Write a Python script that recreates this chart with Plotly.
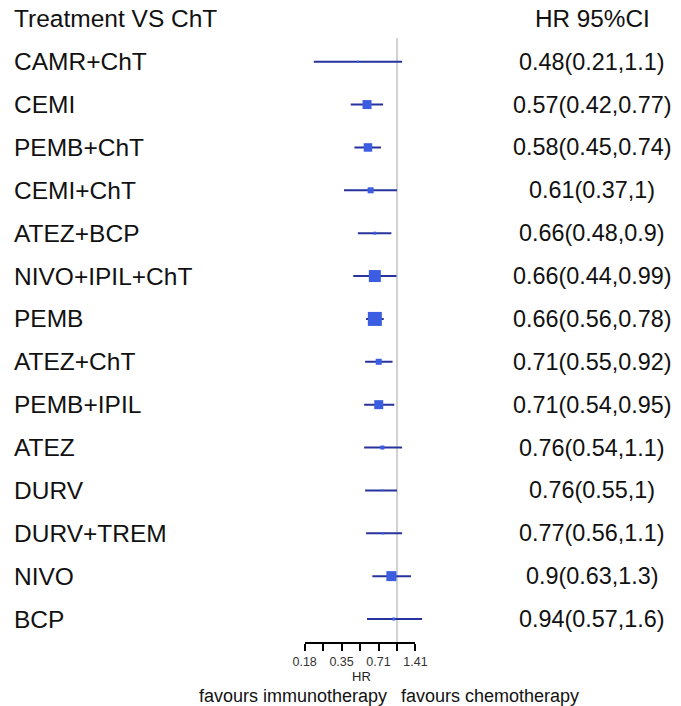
import math
import plotly.graph_objects as go

treatments = ["CAMR+ChT", "CEMI", "PEMB+ChT", "CEMI+ChT", "ATEZ+BCP", "NIVO+IPIL+ChT",
              "PEMB", "ATEZ+ChT", "PEMB+IPIL", "ATEZ", "DURV", "DURV+TREM", "NIVO", "BCP"]
hr = [0.48, 0.57, 0.58, 0.61, 0.66, 0.66, 0.66, 0.71, 0.71, 0.76, 0.76, 0.77, 0.9, 0.94]
lower = [0.21, 0.42, 0.45, 0.37, 0.48, 0.44, 0.56, 0.55, 0.54, 0.54, 0.55, 0.56, 0.63, 0.57]
upper = [1.1, 0.77, 0.74, 1.0, 0.9, 0.99, 0.78, 0.92, 0.95, 1.1, 1.0, 1.1, 1.3, 1.6]
ci_text = ["0.48(0.21,1.1)", "0.57(0.42,0.77)", "0.58(0.45,0.74)", "0.61(0.37,1)",
           "0.66(0.48,0.9)", "0.66(0.44,0.99)", "0.66(0.56,0.78)", "0.71(0.55,0.92)",
           "0.71(0.54,0.95)", "0.76(0.54,1.1)", "0.76(0.55,1)", "0.77(0.56,1.1)",
           "0.9(0.63,1.3)", "0.94(0.57,1.6)"]
weights = [2, 9, 8.5, 6, 3, 12, 14, 6, 9, 4, 2, 2.5, 10, 3]
tick_vals = [0.1768, 0.25, 0.3536, 0.5, 0.7071, 1.0, 1.4142]
tick_text = ["0.18", "", "0.35", "", "0.71", "", "1.41"]

W, H = 681, 706
FONT = "Liberation Sans, Arial, sans-serif"
LINE_COL = "#27329c"
BOX_COL = "#3a5de2"


def px(X):
    # horizontal placement in page pixels, compensated for the capture
    return (X - 12) / 0.966


rows = list(range(len(treatments)))

ax_l, ax_r = px(305), px(416)
lo_log, hi_log = math.log10(tick_vals[0]), math.log10(tick_vals[-1])
ppd = (ax_r - ax_l) / (hi_log - lo_log)
d2_l, d2_r = px(285), px(455)
r2 = [lo_log + (d2_l - ax_l) / ppd, lo_log + (d2_r - ax_l) / ppd]

top_px, bot_px = 38, 642
row0, rstep = 61.7, 42.87
y_top = (top_px - row0) / rstep
y_bot = (bot_px - row0) / rstep

fig = go.Figure()
fig.add_trace(go.Scatter(x=[1, 1], y=[y_top, y_bot], mode="lines",
                         line=dict(color="#d2d2d2", width=2), xaxis="x", yaxis="y",
                         hoverinfo="skip", showlegend=False))
cx, cy = [], []
for lo, hi, r in zip(lower, upper, rows):
    cx += [lo, hi, None]
    cy += [r, r, None]
fig.add_trace(go.Scatter(x=cx, y=cy, mode="lines", line=dict(color=LINE_COL, width=2),
                         xaxis="x2", yaxis="y", showlegend=False, hoverinfo="skip"))
fig.add_trace(go.Scatter(x=hr, y=rows, mode="markers",
                         marker=dict(symbol="square", size=weights, color=BOX_COL, opacity=1,
                                     line=dict(width=0)),
                         xaxis="x2", yaxis="y", showlegend=False, cliponaxis=False))

ann = []
for t, c, r in zip(treatments, ci_text, rows):
    ann.append(dict(x=max(px(15 - 2.5), 0) / W, xref="paper", y=r, yref="y", text=t,
                    showarrow=False, xanchor="left", yanchor="middle",
                    font=dict(size=24.5, color="#111", family=FONT)))
    ann.append(dict(x=px(593) / W, xref="paper", y=r, yref="y", text=c, showarrow=False,
                    xanchor="center", yanchor="middle",
                    font=dict(size=23.4, color="#111", family=FONT)))

ann.append(dict(x=0, xref="paper", y=1 - 19 / H, yref="paper", text="Treatment VS ChT",
                showarrow=False, xanchor="left", yanchor="middle",
                font=dict(size=24.5, color="#111", family=FONT)))
ann.append(dict(x=px(593) / W, xref="paper", y=1 - 19 / H, yref="paper", text="HR 95%CI",
                showarrow=False, xanchor="center", yanchor="middle",
                font=dict(size=24.3, color="#111", family=FONT)))
ann.append(dict(x=px(362) / W, xref="paper", y=1 - 676.5 / H, yref="paper", text="HR",
                showarrow=False, xanchor="center", yanchor="middle", borderpad=0,
                font=dict(size=13, color="#222", family=FONT)))
ann.append(dict(x=px(388) / W, xref="paper", y=1 - 695.5 / H, yref="paper",
                text="favours immunotherapy", showarrow=False, xanchor="right",
                yanchor="middle", borderpad=0, font=dict(size=18, color="#111", family=FONT)))
ann.append(dict(x=px(400) / W, xref="paper", y=1 - 695.5 / H, yref="paper",
                text="favours chemotherapy", showarrow=False, xanchor="left",
                yanchor="middle", borderpad=0, font=dict(size=18, color="#111", family=FONT)))

fig.update_layout(
    width=W, height=H, autosize=False,
    margin=dict(l=0, r=0, t=0, b=0),
    paper_bgcolor="white", plot_bgcolor="rgba(0,0,0,0)",
    xaxis=dict(type="log", domain=[ax_l / W, ax_r / W], range=[lo_log, hi_log],
               tickvals=tick_vals, ticktext=tick_text, ticks="outside", ticklen=7,
               tickwidth=1.5, tickcolor="black", showline=True, linecolor="black",
               linewidth=1.5, showgrid=False, zeroline=False, anchor="y",
               tickfont=dict(size=12.5, color="#333", family=FONT)),
    xaxis2=dict(type="log", domain=[d2_l / W, d2_r / W], range=r2, visible=False,
                showgrid=False, zeroline=False, anchor="y"),
    yaxis=dict(range=[y_bot, y_top], domain=[1 - bot_px / H, 1 - top_px / H], visible=False,
               showgrid=False, zeroline=False),
    annotations=ann,
    showlegend=False,
)

fig.write_html("out.html", config={"displayModeBar": False},
               post_script="document.body.style.margin='0';document.body.style.overflow='hidden';")
